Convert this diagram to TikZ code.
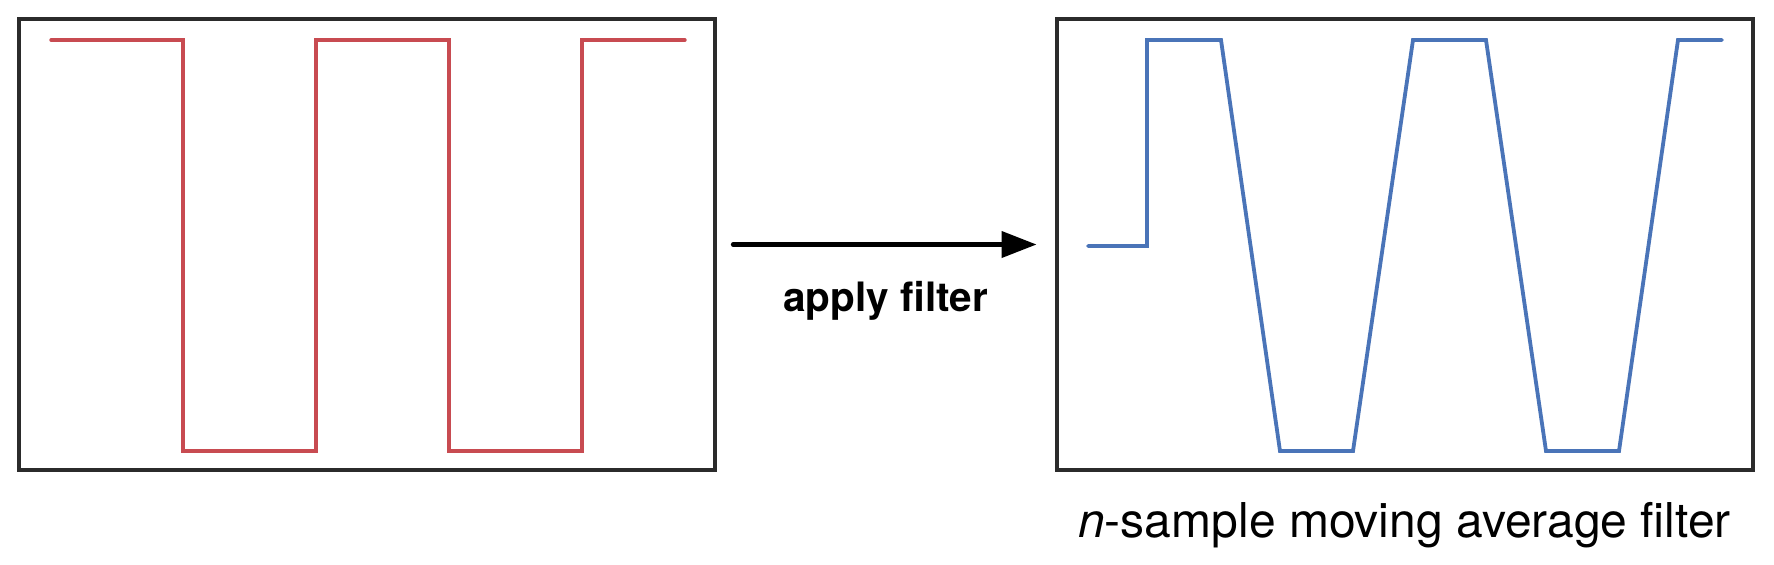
\documentclass[tikz,border=0pt]{standalone}
\usepackage{fontspec}
\setmainfont{TeX Gyre Heros}
\usepackage{tikz}
\usetikzlibrary{positioning, arrows.meta}
\definecolor{sigred}{HTML}{C84B51}
\definecolor{sigblue}{HTML}{4A74B8}
\definecolor{boxgray}{HTML}{2B2B2B}

\begin{document}
\begin{tikzpicture}[x=0.5pt, y=-0.5pt,
    panel/.style={draw=boxgray, line width=2pt, minimum width=348pt, minimum height=225.5pt, inner sep=0pt},
    signal/.style={line width=1.7pt, line cap=round}]
      \useasboundingbox (0,0) rectangle (1774,564);
      % nodes %
      \node[panel] (inbox) at (367,244.5) {};
      \node[panel] (outbox) at (1404.5,244.5) {};
      \node[below=15pt of outbox, inner sep=0pt, font=\fontsize{24}{28}\selectfont] (caption) {\textit{n}-sample moving average filter};
      % signals %
      \draw[signal, sigred] (51,40) -- (183,40) -- (183,451) -- (316,451) -- (316,40) -- (449,40)
        -- (449,451) -- (582,451) -- (582,40) -- (685,40);
      \draw[signal, sigblue, line width=1.9pt] (1088,246) -- (1147,246) -- (1147,40) -- (1221,40)
        -- (1280,451) -- (1353,451) -- (1413,40) -- (1486,40) -- (1546,451) -- (1619,451)
        -- (1678,40) -- (1722,40);
      % edges %
      \draw[-{Triangle[length=17.5pt,width=13pt]}, line width=2.1pt, line cap=round, shorten <=8pt, shorten >=9pt] (inbox) -- (outbox)
        node[midway, below=17.5pt, inner sep=0pt, font=\bfseries\fontsize{20.25}{24}\selectfont] (label) {apply filter};
\end{tikzpicture}
\end{document}
